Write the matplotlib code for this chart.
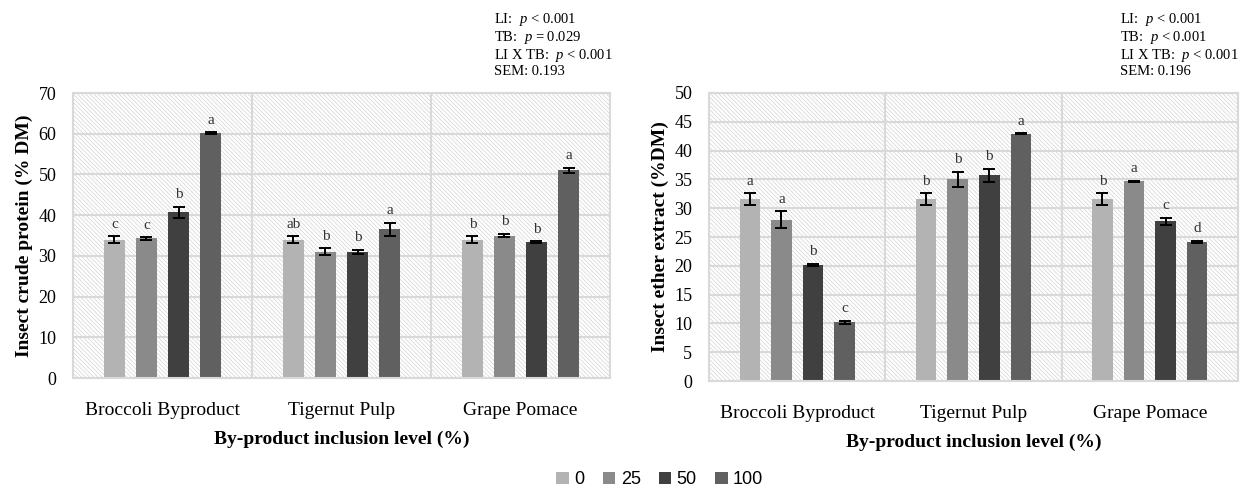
import matplotlib.pyplot as plt
import numpy as np
from matplotlib.patches import Patch, Rectangle

plt.rcParams["font.family"] = ["Liberation Serif", "DejaVu Serif"]
plt.rcParams["mathtext.fontset"] = "custom"
plt.rcParams["mathtext.rm"] = "Liberation Serif"
plt.rcParams["mathtext.it"] = "Liberation Serif:italic"
plt.rcParams["hatch.linewidth"] = 0.5
plt.rcParams["hatch.color"] = "#d4d4d4"

groups = ["Broccoli Byproduct", "Tigernut Pulp", "Grape Pomace"]
levels = ["0", "25", "50", "100"]
colors = ["#b3b3b3", "#8a8a8a", "#404040", "#606060"]

# crude protein (% DM), rows = group, cols = level
protein = [[34.0, 34.3, 40.7, 60.2],
           [34.0, 31.0, 31.0, 36.6],
           [34.0, 35.0, 33.4, 51.0]]
protein_err = [[0.8, 0.3, 1.3, 0.2],
               [0.8, 0.9, 0.5, 1.6],
               [0.8, 0.4, 0.2, 0.6]]
protein_letters = [["c", "c", "b", "a"],
                   ["ab", "b", "b", "a"],
                   ["b", "b", "b", "a"]]
protein_stats = "LI:  $\\it{p}$ < 0.001\nTB:  $\\it{p}$ = 0.029\nLI X TB:  $\\it{p}$ < 0.001\nSEM: 0.193"

# ether extract (% DM)
ether = [[31.6, 28.0, 20.2, 10.2],
         [31.6, 35.0, 35.7, 42.9],
         [31.6, 34.7, 27.7, 24.1]]
ether_err = [[1.0, 1.5, 0.2, 0.3],
             [1.0, 1.3, 1.1, 0.1],
             [1.0, 0.1, 0.6, 0.2]]
ether_letters = [["a", "a", "b", "c"],
                 ["b", "b", "b", "a"],
                 ["b", "a", "c", "d"]]
ether_stats = "LI:  $\\it{p}$ < 0.001\nTB:  $\\it{p}$ < 0.001\nLI X TB:  $\\it{p}$ < 0.001\nSEM: 0.196"


def draw_panel(ax, values, errors, letters, ymax, ystep, ylabel):
    values = np.array(values)
    errors = np.array(errors)
    x = np.arange(len(groups))
    pitch, width = 0.179, 0.117

    # hatched background
    ax.set_facecolor("white")
    ax.add_patch(Rectangle((0, 0), 1, 1, transform=ax.transAxes, facecolor="white",
                           hatch="\\" * 8, edgecolor="#d4d4d4", lw=0, zorder=0))
    for y in np.arange(0, ymax + ystep, ystep):
        ax.axhline(y, color="#d9d9d9", lw=1.5, zorder=1)
    for xv in [0.5, 1.5]:
        ax.axvline(xv, color="#d9d9d9", lw=1.5, zorder=1)

    for i, lev in enumerate(levels):
        pos = x + (i - 1.5) * pitch
        ax.bar(pos, values[:, i], width, color=colors[i], zorder=2, label=lev)
        ax.errorbar(pos, values[:, i], yerr=errors[:, i], fmt="none", ecolor="black",
                    elinewidth=1.4, capsize=4, capthick=1.4, zorder=3)
        for j in range(len(groups)):
            ax.annotate(letters[j][i], (pos[j], values[j, i] + errors[j, i]),
                        xytext=(0, 4), textcoords="offset points",
                        ha="center", va="bottom", fontsize=11, color="#333333")

    ax.set_xlim(-0.5, len(groups) - 0.5)
    ax.set_ylim(0, ymax)
    ax.set_yticks(np.arange(0, ymax + ystep, ystep))
    ax.set_xticks(x)
    ax.set_xticklabels(groups, fontsize=14)
    ax.tick_params(axis="y", labelsize=13, length=0, pad=12)
    ax.tick_params(axis="x", length=0, pad=17)
    for s in ax.spines.values():
        s.set_color("#d9d9d9")
        s.set_linewidth(1.5)
    ax.set_ylabel(ylabel, fontsize=14, fontweight="bold", labelpad=4)
    ax.set_xlabel("By-product inclusion level (%)", fontsize=14, fontweight="bold",
                  labelpad=9)


fig = plt.figure(figsize=(12.52, 4.91), dpi=100)
ax1 = fig.add_axes([0.0583, 0.2301, 0.4289, 0.5804])
ax2 = fig.add_axes([0.5663, 0.2240, 0.4225, 0.5866])

draw_panel(ax1, protein, protein_err, protein_letters, 70, 10, "Insect crude protein (% DM)")
draw_panel(ax2, ether, ether_err, ether_letters, 50, 5, "Insect ether extract (%DM)")

fig.text(0.3945, 0.978, protein_stats, ha="left", va="top", fontsize=10.5, linespacing=1.08)
fig.text(0.8946, 0.978, ether_stats, ha="left", va="top", fontsize=10.5, linespacing=1.08)

handles = [Patch(facecolor=c, label=l) for c, l in zip(colors, levels)]
fig.legend(handles=handles, loc="lower center", bbox_to_anchor=(0.527, -0.028), ncol=4,
           frameon=False, handlelength=0.7, handleheight=0.7, handletextpad=0.3,
           columnspacing=1.0, prop={"family": "Liberation Sans", "size": 13})

fig.savefig("out.png", dpi=100)
